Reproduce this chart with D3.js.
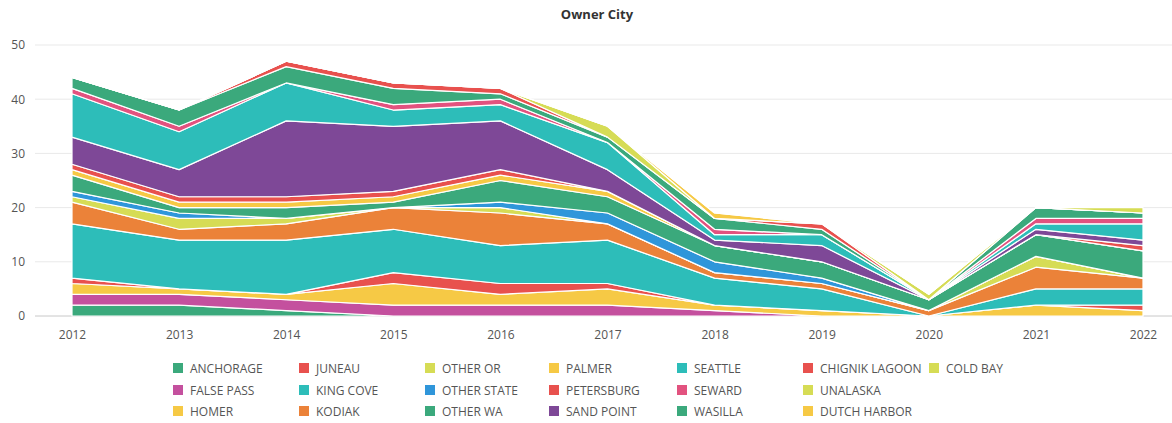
<!DOCTYPE html>
<html>
<head>
<meta charset="utf-8">
<script src="https://cdn.jsdelivr.net/npm/d3@7/dist/d3.min.js"></script>
<style>
  body { margin: 0; background: #fff; }
  svg text { font-family: "Open Sans", "Noto Sans", sans-serif; }
</style>
</head>
<body>
<svg id="chart" width="1172" height="423"></svg>
<script>
// years on the x axis
var years = [2012, 2013, 2014, 2015, 2016, 2017, 2018, 2019, 2020, 2021, 2022];
var yTicks = [0, 10, 20, 30, 40, 50];

// counts per owner city
var anchorage     = [2, 2, 1, 0, 0, 0, 0, 0, 0, 0, 0];
var falsePass     = [2, 2, 2, 2, 2, 2, 1, 0, 0, 0, 0];
var homer         = [2, 1, 1, 4, 2, 3, 1, 1, 0, 2, 1];
var juneau        = [1, 0, 0, 2, 2, 1, 0, 0, 0, 0, 1];
var kingCove      = [10, 9, 10, 8, 7, 8, 5, 4, 0, 3, 3];
var kodiak        = [4, 2, 3, 4, 6, 3, 1, 1, 1, 4, 2];
var otherOr       = [1, 2, 1, 0, 1, 0, 0, 0, 0, 2, 0];
var otherState    = [1, 1, 0, 0, 1, 2, 2, 1, 0, 0, 0];
var otherWa       = [3, 1, 2, 1, 4, 3, 3, 3, 2, 4, 5];
var palmer        = [1, 1, 1, 1, 1, 1, 0, 0, 0, 0, 0];
var petersburg    = [1, 1, 1, 1, 1, 0, 0, 0, 0, 0, 1];
var sandPoint     = [5, 5, 14, 12, 9, 4, 1, 3, 0, 1, 1];
var seattle       = [8, 7, 7, 3, 3, 5, 1, 2, 0, 1, 3];
var seward        = [1, 1, 0, 1, 1, 0, 1, 0, 0, 1, 1];
var wasilla       = [2, 3, 3, 3, 1, 1, 2, 1, 0, 2, 1];
var chignikLagoon = [0, 0, 1, 1, 1, 0, 0, 1, 0, 0, 0];
var unalaska      = [0, 0, 0, 0, 0, 2, 0, 0, 1, 0, 0];
var dutchHarbor   = [0, 0, 0, 0, 0, 0, 1, 0, 0, 0, 0];
var coldBay       = [0, 0, 0, 0, 0, 0, 0, 0, 0, 0, 1];

var cities = ["ANCHORAGE", "FALSE PASS", "HOMER", "JUNEAU", "KING COVE", "KODIAK",
  "OTHER OR", "OTHER STATE", "OTHER WA", "PALMER", "PETERSBURG", "SAND POINT",
  "SEATTLE", "SEWARD", "WASILLA", "CHIGNIK LAGOON", "UNALASKA", "DUTCH HARBOR", "COLD BAY"];
var values = [anchorage, falsePass, homer, juneau, kingCove, kodiak, otherOr, otherState,
  otherWa, palmer, petersburg, sandPoint, seattle, seward, wasilla, chignikLagoon,
  unalaska, dutchHarbor, coldBay];

var green = "#3ba97c", red = "#e8514e", yellow = "#f6c945", lime = "#d6dc55",
    teal = "#2dbdb9", magenta = "#c4509e", orange = "#eb8239", blue = "#2f96da",
    purple = "#7e4897", pink = "#e2527f";
var colors = [green, magenta, yellow, red, teal, orange, lime, blue, green, yellow,
  red, purple, teal, pink, green, red, lime, yellow, lime];

// build table for d3.stack
var table = years.map(function(yr, i) {
  var row = {year: yr};
  cities.forEach(function(c, k) { row[c] = values[k][i]; });
  return row;
});

var svg = d3.select("#chart");

var x = d3.scaleLinear().domain([2012, 2022]).range([72, 1143]);
var y = d3.scaleLinear().domain([0, 50]).range([316, 45]);

svg.append("text")
   .attr("x", 597).attr("y", 19)
   .attr("text-anchor", "middle")
   .style("font-size", "13px").style("font-weight", "bold")
   .style("fill", "#333")
   .text("Owner City");

// grid lines
svg.append("g").selectAll("line")
   .data(yTicks).enter().append("line")
   .attr("x1", 35).attr("x2", 1172)
   .attr("y1", function(d) { return y(d); })
   .attr("y2", function(d) { return y(d); })
   .attr("stroke", function(d) { return d === 0 ? "#c8c8c8" : "#e9e9e9"; })
   .attr("stroke-width", 1);

var stack = d3.stack().keys(cities);
var series = stack(table);

var area = d3.area()
  .x(function(d) { return x(d.data.year); })
  .y0(function(d) { return y(d[0]); })
  .y1(function(d) { return y(d[1]); });

svg.append("g").selectAll("path")
   .data(series).enter().append("path")
   .attr("d", area)
   .attr("fill", function(d, i) { return colors[i]; })
   .attr("stroke", "#fff")
   .attr("stroke-width", 1.2)
   .attr("stroke-linejoin", "round");

// y axis
var yAxis = d3.axisLeft(y).tickValues(yTicks).tickSize(0).tickPadding(0);
var gy = svg.append("g").attr("transform", "translate(25,0)").call(yAxis);
gy.select(".domain").remove();
gy.selectAll("text").style("font-size", "12px").style("fill", "#555");

// x axis
var xAxis = d3.axisBottom(x).tickValues(years).tickFormat(d3.format("d")).tickSize(0).tickPadding(14);
var gx = svg.append("g").attr("transform", "translate(0,316)").call(xAxis);
gx.select(".domain").remove();
gx.selectAll("text").style("font-size", "12px").style("fill", "#555");

// legend, filled column by column, three rows
var legX = [173, 299, 425, 549, 677, 803, 929];
var legY = [368, 390, 411];
var leg = svg.append("g").selectAll("g")
   .data(cities).enter().append("g")
   .attr("transform", function(d, i) {
     return "translate(" + legX[Math.floor(i / 3)] + "," + legY[i % 3] + ")";
   });
leg.append("rect")
   .attr("x", 0).attr("y", -5).attr("width", 10).attr("height", 10)
   .attr("fill", function(d, i) { return colors[i]; });
leg.append("text")
   .attr("x", 17).attr("y", 4.5)
   .style("font-size", "12px").style("fill", "#555")
   .text(function(d) { return d; });
</script>
</body>
</html>
